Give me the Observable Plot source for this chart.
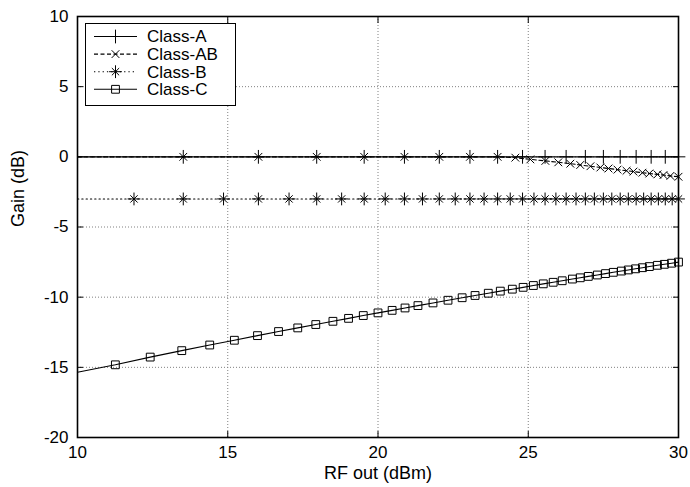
<!DOCTYPE html>
<html>
<head>
<meta charset="utf-8">
<script src="https://cdn.jsdelivr.net/npm/d3@7"></script>
<script src="https://cdn.jsdelivr.net/npm/@observablehq/plot@0.6"></script>
<style>
  html, body { margin: 0; padding: 0; background: white; }
  #wrap { position: relative; width: 690px; height: 487px; }
  #legend { position: absolute; left: 85px; top: 23px; }
  text { font-family: "Liberation Sans", Arial, Helvetica, sans-serif; }
</style>
</head>
<body>
<div id="wrap"></div>
<script>
// ---- data ----
const classes = ["Class-A", "Class-AB", "Class-B", "Class-C"];

const xTicks = [10, 15, 20, 25, 30];
const yTicks = [10, 5, 0, -5, -10, -15, -20];

const aOut  = [10.0, 13.52, 16.02, 17.96, 19.54, 20.88, 22.04, 23.06, 23.98, 24.81, 25.56, 26.26, 26.90, 27.50, 28.06, 28.59, 29.09, 29.56, 30.0];
const aGain = [0, 0, 0, 0, 0, 0, 0, 0, 0, 0, 0, 0, 0, 0, 0, 0, 0, 0, 0];

const abOut  = [10.0, 13.52, 16.02, 17.96, 19.54, 20.88, 22.04, 23.06, 23.98, 24.57, 25.07, 25.57, 26.00, 26.40, 26.73, 27.07, 27.40, 27.67, 27.97, 28.27, 28.50, 28.80, 29.03, 29.30, 29.50, 29.73, 30.00];
const abGain = [0, 0, 0, 0, 0, 0, 0, 0, 0, -0.06, -0.18, -0.29, -0.39, -0.49, -0.58, -0.67, -0.76, -0.83, -0.91, -0.99, -1.05, -1.13, -1.19, -1.25, -1.30, -1.36, -1.42];

const bOut  = [10.0, 11.88, 13.52, 14.86, 16.02, 17.04, 17.96, 18.79, 19.54, 20.24, 20.88, 21.48, 22.04, 22.57, 23.06, 23.53, 23.98, 24.40, 24.81, 25.19, 25.56, 25.92, 26.26, 26.59, 26.90, 27.20, 27.50, 27.78, 28.06, 28.33, 28.59, 28.84, 29.09, 29.33, 29.56, 29.79, 30.0];
const bGain = [-3, -3, -3, -3, -3, -3, -3, -3, -3, -3, -3, -3, -3, -3, -3, -3, -3, -3, -3, -3, -3, -3, -3, -3, -3, -3, -3, -3, -3, -3, -3, -3, -3, -3, -3, -3, -3];

const cOut  = [10.0, 11.26, 12.42, 13.47, 14.40, 15.22, 15.99, 16.69, 17.33, 17.93, 18.50, 19.02, 19.51, 20.00, 20.47, 20.90, 21.33, 21.83, 22.33, 22.80, 23.23, 23.67, 24.07, 24.47, 24.83, 25.17, 25.50, 25.83, 26.13, 26.47, 26.73, 27.00, 27.30, 27.57, 27.83, 28.10, 28.33, 28.57, 28.80, 29.03, 29.30, 29.53, 29.77, 30.00];
const cGain = [-15.35, -14.82, -14.27, -13.81, -13.41, -13.07, -12.74, -12.45, -12.19, -11.95, -11.72, -11.51, -11.31, -11.12, -10.94, -10.77, -10.60, -10.41, -10.22, -10.04, -9.88, -9.72, -9.57, -9.43, -9.30, -9.17, -9.05, -8.94, -8.83, -8.71, -8.62, -8.52, -8.42, -8.32, -8.23, -8.14, -8.06, -7.98, -7.90, -7.82, -7.73, -7.66, -7.58, -7.50];

// ---- table built from the arrays ----
const outs = [aOut, abOut, bOut, cOut];
const gains = [aGain, abGain, bGain, cGain];
const rows = classes.flatMap((c, i) => outs[i].map((x, j) => ({cls: c, x, y: gains[i][j]})));
const of = c => rows.filter(d => d.cls === c);
const mk = c => rows.filter(d => d.cls === c && d.x > 10.01);

const style = {
  "Class-A":  {dash: null,    syms: [["plus", 4.5]]},
  "Class-AB": {dash: "4,2.5", syms: [["times", 3.6]]},
  "Class-B":  {dash: "1.3,3", syms: [["plus", 4.2], ["times", 3.4]]},
  "Class-C":  {dash: null,    syms: [["square", 4.4]]}
};

const marks = [
  Plot.gridX(xTicks.slice(1, -1), {stroke: "#808080", strokeOpacity: 1, strokeWidth: 1, strokeDasharray: "1,2"}),
  Plot.gridY(yTicks.slice(1, -1), {stroke: "#808080", strokeOpacity: 1, strokeWidth: 1, strokeDasharray: "1,2"})
];
for (const c of ["Class-AB", "Class-B", "Class-C", "Class-A"]) {
  marks.push(Plot.line(of(c), {x: "x", y: "y", stroke: "black", strokeWidth: 1.1, strokeDasharray: style[c].dash}));
}
for (const c of classes) {
  for (const [sym, r] of style[c].syms) {
    marks.push(Plot.dot(mk(c), {x: "x", y: "y", symbol: sym, r, fill: "none", stroke: "black", strokeWidth: 1}));
  }
}
marks.push(
  Plot.frame({stroke: "black", strokeWidth: 1.6}),
  Plot.axisX(xTicks, {anchor: "bottom", tickSize: -6, tickPadding: 14, label: null, tickFormat: d => String(d), fontSize: 17}),
  Plot.axisX(xTicks, {anchor: "top", tickSize: -6, tickPadding: 0, label: null, tickFormat: () => ""}),
  Plot.axisY(yTicks, {anchor: "left", tickSize: -6, tickPadding: 15, label: null, tickFormat: d => String(d), fontSize: 17}),
  Plot.axisY(yTicks, {anchor: "right", tickSize: -6, tickPadding: 0, label: null, tickFormat: () => ""}),
  Plot.text(["RF out (dBm)"], {frameAnchor: "bottom", dy: 41, text: d => d, fontSize: 18}),
  Plot.text(["Gain (dB)"], {frameAnchor: "left", dx: -59, rotate: -90, text: d => d, fontSize: 18})
);

const chart = Plot.plot({
  width: 690,
  height: 487,
  marginLeft: 77,
  marginRight: 12,
  marginTop: 16,
  marginBottom: 50,
  x: {domain: [10, 30]},
  y: {domain: [-20, 10]},
  style: {fontFamily: "'Liberation Sans', Arial, Helvetica, sans-serif", fontSize: "17px", color: "black", background: "white"},
  marks
});
const wrap = document.getElementById("wrap");
wrap.appendChild(chart);

// ---- legend inside the frame ----
const symMap = {plus: d3.symbolPlus, times: d3.symbolTimes, square: d3.symbolSquare};
const lg = d3.select(wrap).append("svg").attr("id", "legend").attr("width", 151).attr("height", 83);
lg.append("rect").attr("x", 0.5).attr("y", 0.5).attr("width", 150).attr("height", 82)
  .attr("fill", "white").attr("stroke", "black").attr("stroke-width", 1);
classes.forEach((c, i) => {
  const y = 13.5 + 17.6 * i;
  const g = lg.append("g");
  g.append("line").attr("x1", 9).attr("x2", 52).attr("y1", y).attr("y2", y)
    .attr("stroke", "black").attr("stroke-width", 1.1)
    .attr("stroke-dasharray", style[c].dash);
  for (const [sym, r] of style[c].syms) {
    g.append("path").attr("transform", `translate(30.5,${y})`)
      .attr("d", d3.symbol(symMap[sym], Math.PI * r * r)())
      .attr("fill", "none").attr("stroke", "black").attr("stroke-width", 1);
  }
  g.append("text").attr("x", 62).attr("y", y).attr("dy", "0.35em")
    .attr("font-size", 17).attr("fill", "black").text(c);
});
</script>
</body>
</html>
